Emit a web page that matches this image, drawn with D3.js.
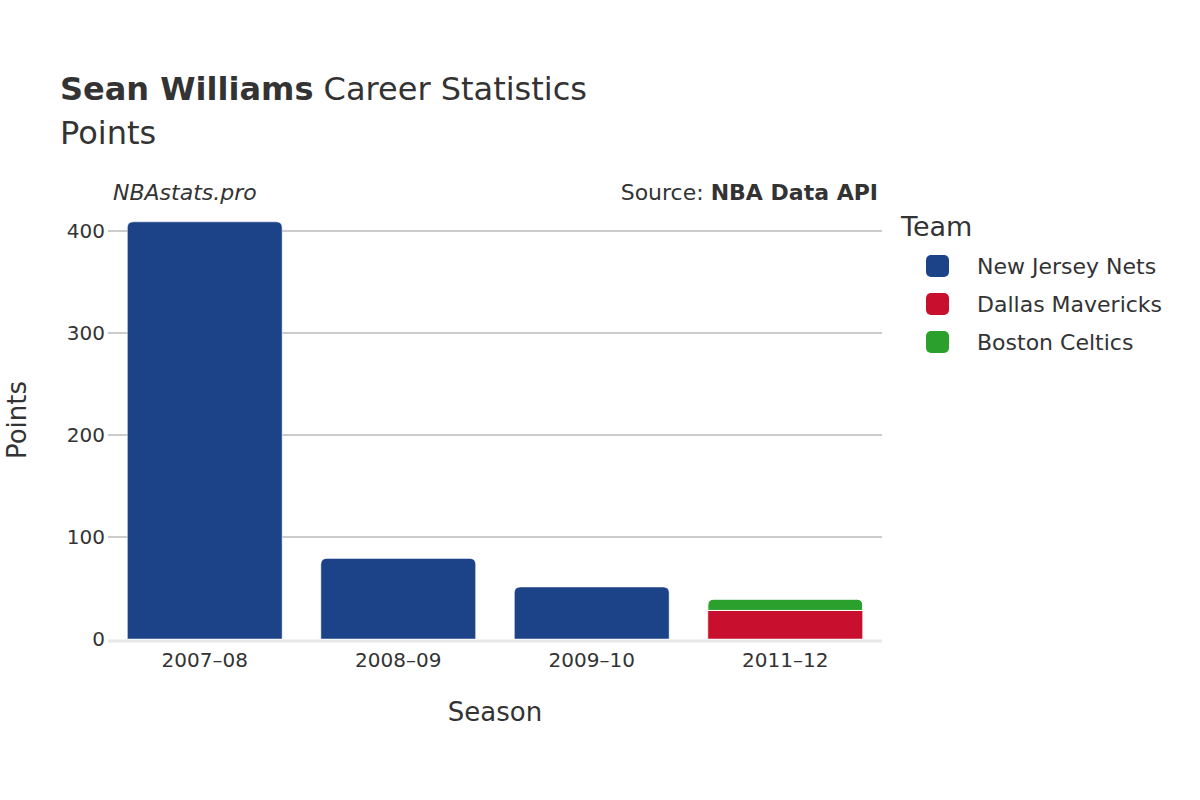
<!DOCTYPE html>
<html><head><meta charset="utf-8">
<script src="https://cdn.jsdelivr.net/npm/d3@7"></script>
<style>body{margin:0;background:#fff}text{font-family:"DejaVu Sans",sans-serif;fill:#333}</style>
</head><body><svg id="c" width="1200" height="800"></svg>
<script>
const seasons = ["2007–08","2008–09","2009–10","2011–12"];
const teams = ["New Jersey Nets","Dallas Mavericks","Boston Celtics"];
const colors = ["#1c4388","#c8102e","#2ca02c"];
const netsPts = [409,79,51,0];
const mavsPts = [0,0,0,28];
const celticsPts = [0,0,0,11];
const yTicks = [0,100,200,300,400];

const svg = d3.select("#c");
const L=108,R=882,T=231-0.02,B=639;
const x = d3.scaleBand().domain(seasons).range([L,R]).paddingInner(0.2).paddingOuter(0.1);
const y = d3.scaleLinear().domain([0,400]).range([639,231]);

svg.append("g").selectAll("line").data(yTicks.filter(d=>d>0)).join("line")
 .attr("x1",L).attr("x2",R).attr("y1",d=>y(d)).attr("y2",d=>y(d)).attr("stroke","#999").attr("stroke-width",1);
svg.append("line").attr("x1",L).attr("x2",R).attr("y1",y(0)+2).attr("y2",y(0)+2).attr("stroke","#e8e8e8").attr("stroke-width",3);
svg.append("g").selectAll("text").data(yTicks).join("text")
 .attr("x",L-3).attr("y",d=>y(d)).attr("dy","0.35em").attr("text-anchor","end").attr("font-size",20).text(d=>d);
svg.append("g").selectAll("text").data(seasons).join("text")
 .attr("x",d=>x(d)+x.bandwidth()/2).attr("y",667).attr("text-anchor","middle").attr("font-size",20).text(d=>d);

const series = [netsPts,mavsPts,celticsPts];
const stack = seasons.map((s,i)=>{let b=0;return series.map((arr,k)=>{const r={s,k,y0:b,y1:b+arr[i]};b+=arr[i];return r;}).filter(r=>r.y1>r.y0);});
stack.forEach(segs=>{
  segs.forEach((r,j)=>{
    const top=j===segs.length-1, x0=x(r.s), w=x.bandwidth(), yt=y(r.y1), yb=y(r.y0), rad=top?Math.min(6,yb-yt):0;
    const p=d3.path();
    p.moveTo(x0,yb);p.lineTo(x0,yt+rad);
    if(rad){p.quadraticCurveTo(x0,yt,x0+rad,yt);p.lineTo(x0+w-rad,yt);p.quadraticCurveTo(x0+w,yt,x0+w,yt+rad);}else{p.lineTo(x0+w,yt);}
    p.lineTo(x0+w,yb);p.closePath();
    svg.append("path").attr("d",p.toString()).attr("fill",colors[r.k]).attr("stroke","#fff").attr("stroke-width",j>0?1:0.5);
  });
});

svg.append("text").attr("x",60).attr("y",100).attr("font-size",32).html('<tspan font-weight="bold">Sean Williams</tspan> Career Statistics');
svg.append("text").attr("x",60).attr("y",144).attr("font-size",32).text("Points");
svg.append("text").attr("x",113).attr("y",200).attr("font-size",22).attr("font-style","italic").text("NBAstats.pro");
svg.append("text").attr("x",878).attr("y",200).attr("font-size",22).attr("text-anchor","end").html('Source: <tspan font-weight="bold">NBA Data API</tspan>');
svg.append("text").attr("x",495).attr("y",721).attr("font-size",26).attr("text-anchor","middle").text("Season");
svg.append("text").attr("transform","translate(26,420) rotate(-90)").attr("font-size",26).attr("text-anchor","middle").text("Points");

svg.append("text").attr("x",901).attr("y",236).attr("font-size",27).text("Team");
teams.forEach((t,i)=>{
  const yy=266+i*38;
  svg.append("rect").attr("x",926).attr("y",yy-11).attr("width",23).attr("height",22).attr("rx",5).attr("fill",colors[i]);
  svg.append("text").attr("x",977).attr("y",yy).attr("dy","0.35em").attr("font-size",22).text(t);
});
</script></body></html>
